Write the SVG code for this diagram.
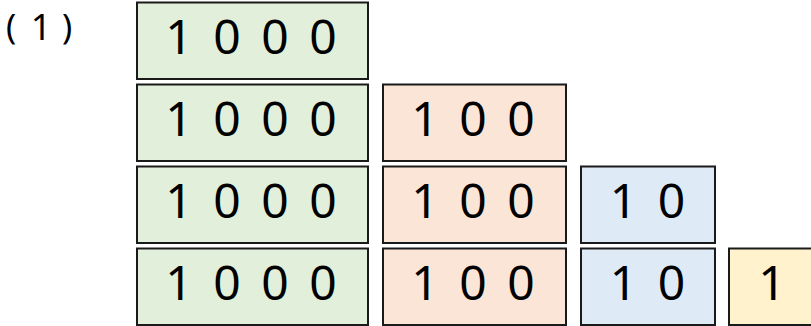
<svg xmlns="http://www.w3.org/2000/svg" width="811" height="326" viewBox="0 0 811 326">
<style>
.b{stroke:#1a1a1a;stroke-width:2}
.g{fill:#E2EFDA}.o{fill:#FBE5D6}.u{fill:#DEEBF7}.y{fill:#FFF2CC}
.t{font-family:"Noto Sans","DejaVu Sans",sans-serif;font-size:48px;fill:#000;text-anchor:middle}
.l{font-family:"Noto Sans","DejaVu Sans",sans-serif;font-size:34px;fill:#000;text-anchor:middle}
</style>
<rect width="811" height="326" fill="#fff"/>
<text class="l"><tspan x="11" y="38.5">(</tspan><tspan x="41" y="39.5" font-size="36">1</tspan><tspan x="67" y="38.5">)</tspan></text>
<g id="r1-1000"><rect class="b g" x="137" y="2.5" width="231" height="76.5"/><text class="t" x="179 227 275 323" y="54">1000</text></g>
<g id="r2-1000"><rect class="b g" x="137" y="84.5" width="231" height="76.5"/><text class="t" x="179 227 275 323" y="136">1000</text></g>
<g id="r2-100"><rect class="b o" x="383" y="84.5" width="183" height="76.5"/><text class="t" x="425 473 521" y="136">100</text></g>
<g id="r3-1000"><rect class="b g" x="137" y="166.5" width="231" height="76.5"/><text class="t" x="179 227 275 323" y="218">1000</text></g>
<g id="r3-100"><rect class="b o" x="383" y="166.5" width="183" height="76.5"/><text class="t" x="425 473 521" y="218">100</text></g>
<g id="r3-10"><rect class="b u" x="581" y="166.5" width="134" height="76.5"/><text class="t" x="623.5 671.5" y="218">10</text></g>
<g id="r4-1000"><rect class="b g" x="137" y="248.5" width="231" height="76.5"/><text class="t" x="179 227 275 323" y="300">1000</text></g>
<g id="r4-100"><rect class="b o" x="383" y="248.5" width="183" height="76.5"/><text class="t" x="425 473 521" y="300">100</text></g>
<g id="r4-10"><rect class="b u" x="581" y="248.5" width="134" height="76.5"/><text class="t" x="623.5 671.5" y="300">10</text></g>
<g id="r4-1"><rect class="b y" x="729" y="248.5" width="100" height="76.5"/><text class="t" x="772" y="300">1</text></g>
<g id="connectors"/>
</svg>
